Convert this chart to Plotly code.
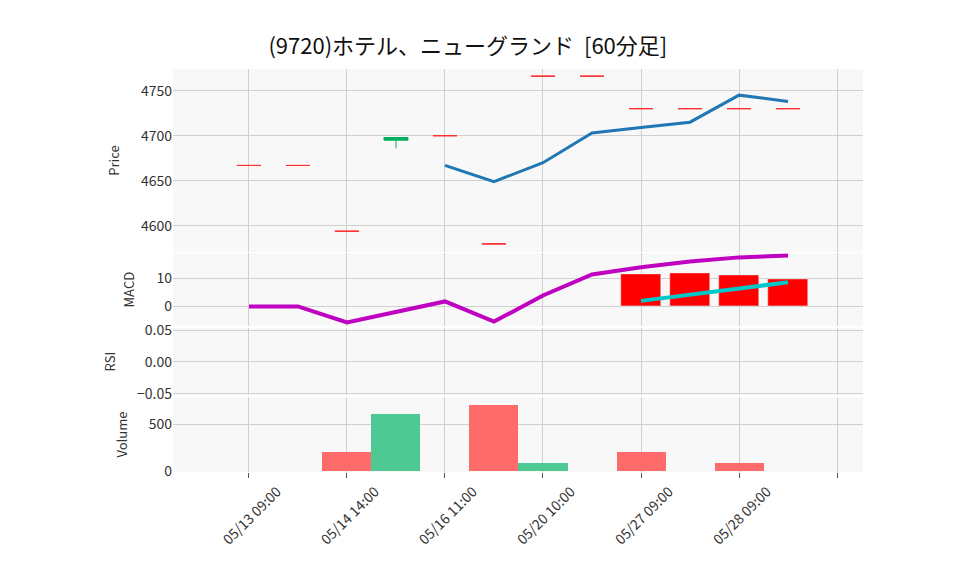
import plotly.graph_objects as go

x = list(range(12))
tick_vals = [0, 2, 4, 6, 8, 10, 12]
tick_text = ['05/13 09:00', '05/14 14:00', '05/16 11:00', '05/20 10:00', '05/27 09:00', '05/28 09:00', '']

open_ = [4667, 4667, 4594, 4695, 4700, 4580, 4766, 4766, 4730, 4730, 4730, 4730]
high = [4667, 4667, 4594, 4698, 4700, 4580, 4766, 4766, 4730, 4730, 4730, 4730]
low = [4667, 4667, 4594, 4686, 4700, 4580, 4766, 4766, 4730, 4730, 4730, 4730]
close = [4667, 4667, 4594, 4698, 4700, 4580, 4766, 4766, 4730, 4730, 4730, 4730]
ma = [None, None, None, None, 4667, 4649, 4670, 4703, 4709, 4715, 4745, 4738]

macd = [0, 0, -5.7, -1.8, 1.8, -5.4, 3.9, 11.4, 14, 16, 17.5, 18.2]
signal = [None] * 8 + [2, 4.3, 6.4, 8.6]
hist = [None] * 8 + [11.4, 12, 11.3, 9.6]

volume = [0, 0, 200, 606, 0, 702, 90, 0, 200, 0, 90, 0]
vol_color = ['#ff6b6b', '#ff6b6b', '#ff6b6b', '#4ec994', '#ff6b6b', '#ff6b6b', '#4ec994',
             '#ff6b6b', '#ff6b6b', '#ff6b6b', '#ff6b6b', '#ff6b6b']

fig = go.Figure()
# split up / down candles so flat ones are drawn red
up = [i for i in x if close[i] > open_[i]]
down = [i for i in x if close[i] <= open_[i]]
for idx, col in [(up, '#00b060'), (down, '#ff3030')]:
    fig.add_trace(go.Candlestick(
        x=idx, open=[open_[i] for i in idx], high=[high[i] for i in idx],
        low=[low[i] for i in idx], close=[close[i] for i in idx],
        increasing={'line': {'color': col, 'width': 1}, 'fillcolor': col},
        decreasing={'line': {'color': col, 'width': 1}, 'fillcolor': col},
        whiskerwidth=0, xaxis='x', yaxis='y', showlegend=False))
fig.add_trace(go.Scatter(x=x, y=ma, mode='lines', line={'color': '#1f77b4', 'width': 3},
                         xaxis='x', yaxis='y', showlegend=False))

fig.add_trace(go.Bar(x=x, y=hist, marker_color='#ff0000', width=0.8,
                     xaxis='x', yaxis='y2', showlegend=False))
fig.add_trace(go.Scatter(x=x, y=macd, mode='lines', line={'color': '#c000c0', 'width': 4},
                         xaxis='x', yaxis='y2', showlegend=False))
fig.add_trace(go.Scatter(x=x, y=signal, mode='lines', line={'color': '#00c8c8', 'width': 4},
                         xaxis='x', yaxis='y2', showlegend=False))

fig.add_trace(go.Scatter(x=[], y=[], xaxis='x', yaxis='y3', showlegend=False))

fig.add_trace(go.Bar(x=x, y=volume, marker={'color': vol_color, 'line': {'width': 0}}, width=1.0,
                     xaxis='x', yaxis='y4', showlegend=False))

grid = '#d0d0d0'
axis_common = dict(gridcolor=grid, zeroline=False, showline=False, ticks='', color='#333',
                   automargin=False)
fig.update_layout(
    width=958, height=575,
    margin=dict(l=165, r=103, t=61, b=111, autoexpand=False),
    paper_bgcolor='white', plot_bgcolor='#f8f8f8',
    font=dict(family='Noto Sans CJK JP', size=13, color='#333'),
    title=dict(text='(9720)ホテル、ニューグランド  [60分足]', x=0.48, y=0.946,
               xanchor='center', font=dict(size=22, color='#111'), automargin=False),
    bargap=0,
    xaxis=dict(range=[-1.55, 12.53], tickvals=tick_vals, ticktext=tick_text, tickangle=-45,
               anchor='y4', rangeslider=dict(visible=False), ticks='outside', ticklen=5,
               tickcolor='#555', gridcolor=grid, showline=False, zeroline=False, automargin=False,
               tickfont=dict(size=14), ticklabelshift=28),
    yaxis=dict(domain=[0.546, 1], range=[4571, 4774], title='Price', tickvals=[4600, 4650, 4700, 4750], **axis_common),
    yaxis2=dict(domain=[0.362, 0.543], range=[-7, 19], title='MACD', tickvals=[0, 10], **axis_common),
    yaxis3=dict(domain=[0.191, 0.357], range=[-0.052, 0.053], title='RSI',
                tickvals=[-0.05, 0, 0.05], tickformat='.2f', **axis_common),
    yaxis4=dict(domain=[0, 0.186], range=[-10, 787], title='Volume', tickvals=[0, 500], **axis_common),
)
fig.update_yaxes(title_font=dict(size=13), title_standoff=18, tickfont=dict(size=14))

fig.write_html("out.html")
